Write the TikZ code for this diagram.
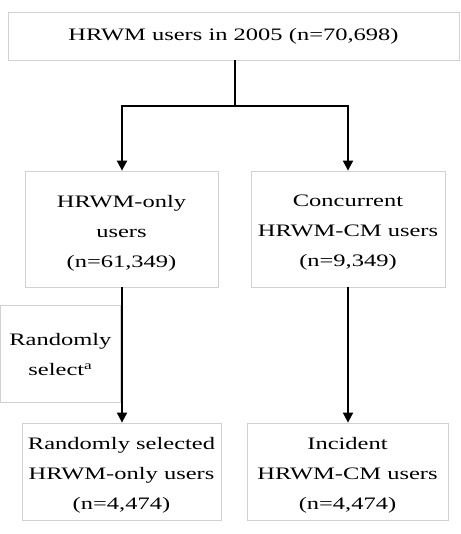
\documentclass[tikz,border=0pt]{standalone}
\usepackage{fontspec}
\setmainfont[FakeStretch=1.4]{Liberation Serif}
\usetikzlibrary{arrows.meta}
\begin{document}
\begin{tikzpicture}[x=1pt,y=-1pt,
  box/.style={draw=black!18, line width=0.8pt, fill=white, inner sep=0pt},
  txt/.style={inner sep=0pt, align=center, font=\fontsize{17.5}{30}\selectfont},
  conn/.style={line width=1.8pt, black},
  arr/.style={conn, -{Triangle[length=10pt,width=10pt]}}]
\useasboundingbox (0,0) rectangle (460,534);
\node[box, minimum width=451pt, minimum height=48pt] (top) at (233.5,36) {};
\node[txt] (toptxt) at (top.center) {HRWM users in 2005 (n=70,698)};
\node[box, minimum width=193pt, minimum height=116pt] (ml) at (121.5,229) {};
\node[txt, yshift=-4pt] (mltxt) at (ml.center) {HRWM-only\\users\\(n=61,349)};
\node[box, minimum width=194pt, minimum height=116pt] (mr) at (348,229) {};
\node[txt, yshift=-4pt] (mrtxt) at (mr.center) {Concurrent\\HRWM-CM users\\(n=9,349)};
\node[box, minimum width=120pt, minimum height=97pt, anchor=north west] (sel) at (0,305) {};
\node[txt, yshift=-1pt] (seltxt) at (sel.center) {Randomly\\select\textsuperscript{a}};
\node[box, minimum width=199pt, minimum height=97pt] (bl) at (121.5,471.5) {};
\node[txt, yshift=-4pt] (bltxt) at (bl.center) {Randomly selected\\HRWM-only users\\(n=4,474)};
\node[box, minimum width=201pt, minimum height=97pt] (br) at (347.5,471.5) {};
\node[txt, yshift=-4pt] (brtxt) at (br.center) {Incident\\HRWM-CM users\\(n=4,474)};
\coordinate (j) at (235,106);
\draw[conn] (top.south -| j) -- (j);
\draw[arr] (j) -| (ml.north -| 122,0);
\draw[arr] (j) -| (mr.north -| 348,0);
\draw[arr] (ml.south -| 122,0) -- (bl.north -| 122,0);
\draw[arr] (mr.south -| 348,0) -- (br.north -| 348,0);
\end{tikzpicture}
\end{document}
